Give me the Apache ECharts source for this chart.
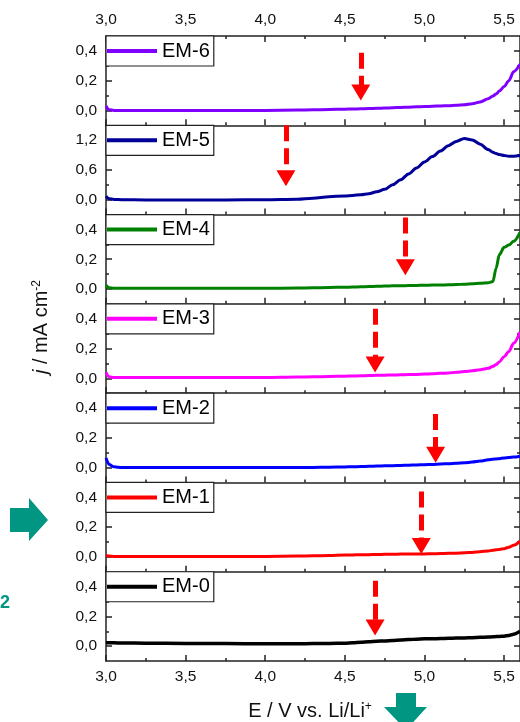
<!DOCTYPE html>
<html><head><meta charset="utf-8">
<script src="https://cdn.jsdelivr.net/npm/echarts@6/dist/echarts.min.js"></script>
<style>html,body{margin:0;padding:0;background:#fff}#c{width:520px;height:722px}</style>
</head><body><div id="c"></div>
<script>
// ---- data ----
const potential = [3.0, 3.02, 3.05, 3.1, 3.25, 3.5, 3.75, 4.0, 4.2, 4.3, 4.4, 4.5, 4.55, 4.6, 4.65, 4.7, 4.75, 4.8, 4.85, 4.9, 4.95, 5.0, 5.05, 5.1, 5.15, 5.2, 5.25, 5.3, 5.35, 5.4, 5.43, 5.45, 5.47, 5.5, 5.53, 5.56, 5.6];
const em6 = [0.03, 0.005, 0.0, 0.0, 0.0, 0.0, 0.0, 0.0, 0.002, 0.004, 0.006, 0.008, 0.0095, 0.011, 0.0125, 0.014, 0.016, 0.018, 0.02, 0.022, 0.024, 0.026, 0.028, 0.03, 0.032, 0.035, 0.038, 0.045, 0.057, 0.078, 0.097, 0.11, 0.13, 0.16, 0.2, 0.26, 0.31];
const em5 = [0.07, 0.02, 0.005, 0.0, -0.005, -0.005, -0.005, 0.0, 0.01, 0.03, 0.06, 0.075, 0.085, 0.1, 0.12, 0.16, 0.21, 0.3, 0.4, 0.52, 0.64, 0.76, 0.87, 0.98, 1.09, 1.175, 1.235, 1.205, 1.12, 1.01, 0.955, 0.93, 0.91, 0.89, 0.877, 0.875, 0.89];
const em4 = [0.025, 0.008, 0.005, 0.005, 0.005, 0.005, 0.005, 0.005, 0.006, 0.008, 0.01, 0.012, 0.013, 0.015, 0.016, 0.018, 0.02, 0.021, 0.022, 0.023, 0.024, 0.025, 0.026, 0.027, 0.028, 0.03, 0.032, 0.035, 0.038, 0.042, 0.05, 0.14, 0.23, 0.28, 0.295, 0.32, 0.38];
const em3 = [0.04, 0.01, 0.005, 0.005, 0.005, 0.005, 0.005, 0.005, 0.008, 0.01, 0.012, 0.014, 0.015, 0.017, 0.018, 0.02, 0.021, 0.022, 0.023, 0.025, 0.026, 0.028, 0.03, 0.033, 0.036, 0.04, 0.045, 0.05, 0.057, 0.067, 0.08, 0.092, 0.11, 0.145, 0.18, 0.235, 0.31];
const em2 = [0.065, 0.02, 0.005, 0.0, 0.0, 0.0, 0.0, 0.0, 0.0, 0.001, 0.002, 0.004, 0.0055, 0.007, 0.0085, 0.01, 0.0115, 0.013, 0.0145, 0.016, 0.0175, 0.019, 0.021, 0.024, 0.026, 0.029, 0.032, 0.037, 0.044, 0.052, 0.056, 0.058, 0.06, 0.064, 0.067, 0.071, 0.077];
const em1 = [0.01, 0.005, 0.003, 0.003, 0.003, 0.003, 0.003, 0.003, 0.005, 0.007, 0.009, 0.012, 0.013, 0.014, 0.015, 0.016, 0.017, 0.018, 0.0185, 0.019, 0.0195, 0.02, 0.021, 0.022, 0.0235, 0.025, 0.027, 0.03, 0.034, 0.04, 0.044, 0.047, 0.05, 0.055, 0.065, 0.078, 0.105];
const em0 = [0.022, 0.022, 0.022, 0.021, 0.02, 0.018, 0.017, 0.016, 0.016, 0.017, 0.018, 0.02, 0.023, 0.026, 0.03, 0.033, 0.035, 0.038, 0.041, 0.044, 0.047, 0.049, 0.05, 0.051, 0.053, 0.054, 0.055, 0.057, 0.059, 0.061, 0.063, 0.064, 0.065, 0.067, 0.072, 0.08, 0.1];

const seriesNames = ['EM-6', 'EM-5', 'EM-4', 'EM-3', 'EM-2', 'EM-1', 'EM-0'];
const seriesValues = [em6, em5, em4, em3, em2, em1, em0];
const seriesColors = ['#8000ff', '#000099', '#008000', '#ff00ff', '#0000ff', '#ff0000', '#000000'];

const xMin = 3.0, xMax = 5.6;
const xTicks = [3.0, 3.5, 4.0, 4.5, 5.0, 5.5];
const xMinorTicks = [3.25, 3.75, 4.25, 4.75, 5.25];

const yMins = [-0.1, -0.3, -0.1, -0.1, -0.1, -0.1, -0.1];
const yMaxs = [0.5, 1.5, 0.5, 0.5, 0.5, 0.5, 0.5];
const yTickSets = [[0, 0.2, 0.4], [0, 0.6, 1.2], [0, 0.2, 0.4], [0, 0.2, 0.4], [0, 0.2, 0.4], [0, 0.2, 0.4], [0, 0.2, 0.4]];
const yMinorSets = [[0.1, 0.3], [0.3, 0.9], [0.1, 0.3], [0.1, 0.3], [0.1, 0.3], [0.1, 0.3], [0.1, 0.3]];

// red onset arrows: potential, dash start value, arrow-head value
const arrowX = [4.6, 4.13, 4.88, 4.69, 5.07, 4.98, 4.69];
const arrowTop = [0.387, 1.5, 0.48, 0.467, 0.36, 0.44, 0.44];
const arrowEnd = [0.12, 0.43, 0.146, 0.093, 0.086, 0.073, 0.126];

// ---- layout / style ----
const FONT = 'Arial, "Liberation Sans", Helvetica, sans-serif';
const AX = '#222';
const N = 7;
const PANEL_TOP = 36, PANEL_H = 89.29;
const fmt = v => Number(v).toFixed(1).replace('.', ',');

const grids = [], xAxes = [], yAxes = [], series = [], legends = [];
const lineSt = {color: AX, width: 1.5};

function xAxisDef(i, pos, ticks, len, showLine, showLabel) {
  return {
    type: 'value', gridIndex: i, position: pos, min: xMin, max: xMax,
    axisLine: {show: showLine, onZero: false, lineStyle: lineSt},
    axisTick: {show: true, inside: true, length: len, customValues: ticks, lineStyle: lineSt},
    axisLabel: {show: showLabel, customValues: ticks, formatter: fmt, margin: 8, fontSize: 15.5, color: '#111', fontFamily: FONT},
    splitLine: {show: false}
  };
}
function yAxisDef(i, pos, ticks, len, showLine, showLabel) {
  return {
    type: 'value', gridIndex: i, position: pos, min: yMins[i], max: yMaxs[i],
    axisLine: {show: showLine, onZero: false, lineStyle: lineSt},
    axisTick: {show: true, inside: true, length: len, customValues: ticks, lineStyle: lineSt},
    axisLabel: {show: showLabel, customValues: ticks, formatter: fmt, margin: 9, fontSize: 15.5, color: '#111', fontFamily: FONT},
    splitLine: {show: false}
  };
}

for (let i = 0; i < N; i++) {
  const top = PANEL_TOP + i * PANEL_H;
  grids.push({left: 106, right: -2, top: top, height: PANEL_H});
  const xi = xAxes.length;
  xAxes.push(xAxisDef(i, 'bottom', xTicks, 6, true, i === N - 1));
  xAxes.push(xAxisDef(i, 'bottom', xMinorTicks, 3, false, false));
  if (i === 0) {
    xAxes.push(xAxisDef(i, 'top', xTicks, 6, true, true));
    xAxes.push(xAxisDef(i, 'top', xMinorTicks, 3, false, false));
  }
  const yi = yAxes.length;
  yAxes.push(yAxisDef(i, 'left', yTickSets[i], 6, true, true));
  yAxes.push(yAxisDef(i, 'left', yMinorSets[i], 3, false, false));
  yAxes.push(yAxisDef(i, 'right', yTickSets[i], 6, true, false));
  yAxes.push(yAxisDef(i, 'right', yMinorSets[i], 3, false, false));

  series.push({
    name: seriesNames[i], type: 'line', xAxisIndex: xi, yAxisIndex: yi,
    data: potential.map((x, k) => [x, seriesValues[i][k]]),
    showSymbol: false, symbol: 'none', smooth: 0.3, smoothMonotone: 'x',
    lineStyle: {width: i === N - 1 ? 3.5 : 3, color: seriesColors[i]},
    itemStyle: {color: seriesColors[i]},
    animation: false,
    markLine: {
      silent: true, animation: false, symbol: ['none', 'triangle'], symbolSize: [19, 16],
      label: {show: false},
      lineStyle: {color: '#ff0000', width: 5, type: [16, 7]},
      emphasis: {disabled: true},
      data: [[{coord: [arrowX[i], arrowTop[i]]}, {coord: [arrowX[i], arrowEnd[i]]}]]
    }
  });

  legends.push({
    data: [seriesNames[i]], left: 106, top: top, orient: 'horizontal',
    icon: 'rect', itemWidth: 50, itemHeight: 4, itemGap: 0, itemTextGap: 6,
    padding: [5, 4, 5, 1], borderColor: AX, borderWidth: 1.2, backgroundColor: '#fff',
    selectedMode: false,
    textStyle: {fontSize: 20, color: '#000', fontFamily: FONT}
  });
}

const TEAL = '#009682';
const graphic = [
  {type: 'text', x: 41, y: 327, rotation: Math.PI / 2,
   style: {text: '{i|j} / mA cm{s|-2}', textAlign: 'center', textVerticalAlign: 'middle',
     fontSize: 20, fontFamily: FONT, fill: '#111',
     rich: {i: {fontStyle: 'italic', fontSize: 20, fontFamily: FONT}, s: {fontSize: 12, fontFamily: FONT, verticalAlign: 'top'}}}},
  {type: 'text', x: 310, y: 711,
   style: {text: 'E / V vs. Li/Li{s|+}', textAlign: 'center', textVerticalAlign: 'middle',
     fontSize: 20, fontFamily: FONT, fill: '#111',
     rich: {s: {fontSize: 12, fontFamily: FONT, verticalAlign: 'top'}}}},
  {type: 'polygon', shape: {points: [[10, 508], [29, 508], [29, 498], [48, 520], [29, 541], [29, 532], [10, 532]]}, style: {fill: TEAL}},
  {type: 'polygon', shape: {points: [[396, 693], [416, 693], [416, 707], [427, 707], [406, 730], [384, 707], [396, 707]]}, style: {fill: TEAL}},
  {type: 'text', x: 5, y: 603, style: {text: '2', textAlign: 'center', textVerticalAlign: 'middle', fontSize: 18, fontWeight: 'bold', fontFamily: FONT, fill: TEAL}}
];

const chart = echarts.init(document.getElementById('c'), null, {renderer: 'canvas'});
chart.setOption({
  animation: false,
  backgroundColor: '#fff',
  grid: grids, xAxis: xAxes, yAxis: yAxes, series: series, legend: legends, graphic: graphic
});
</script></body></html>
